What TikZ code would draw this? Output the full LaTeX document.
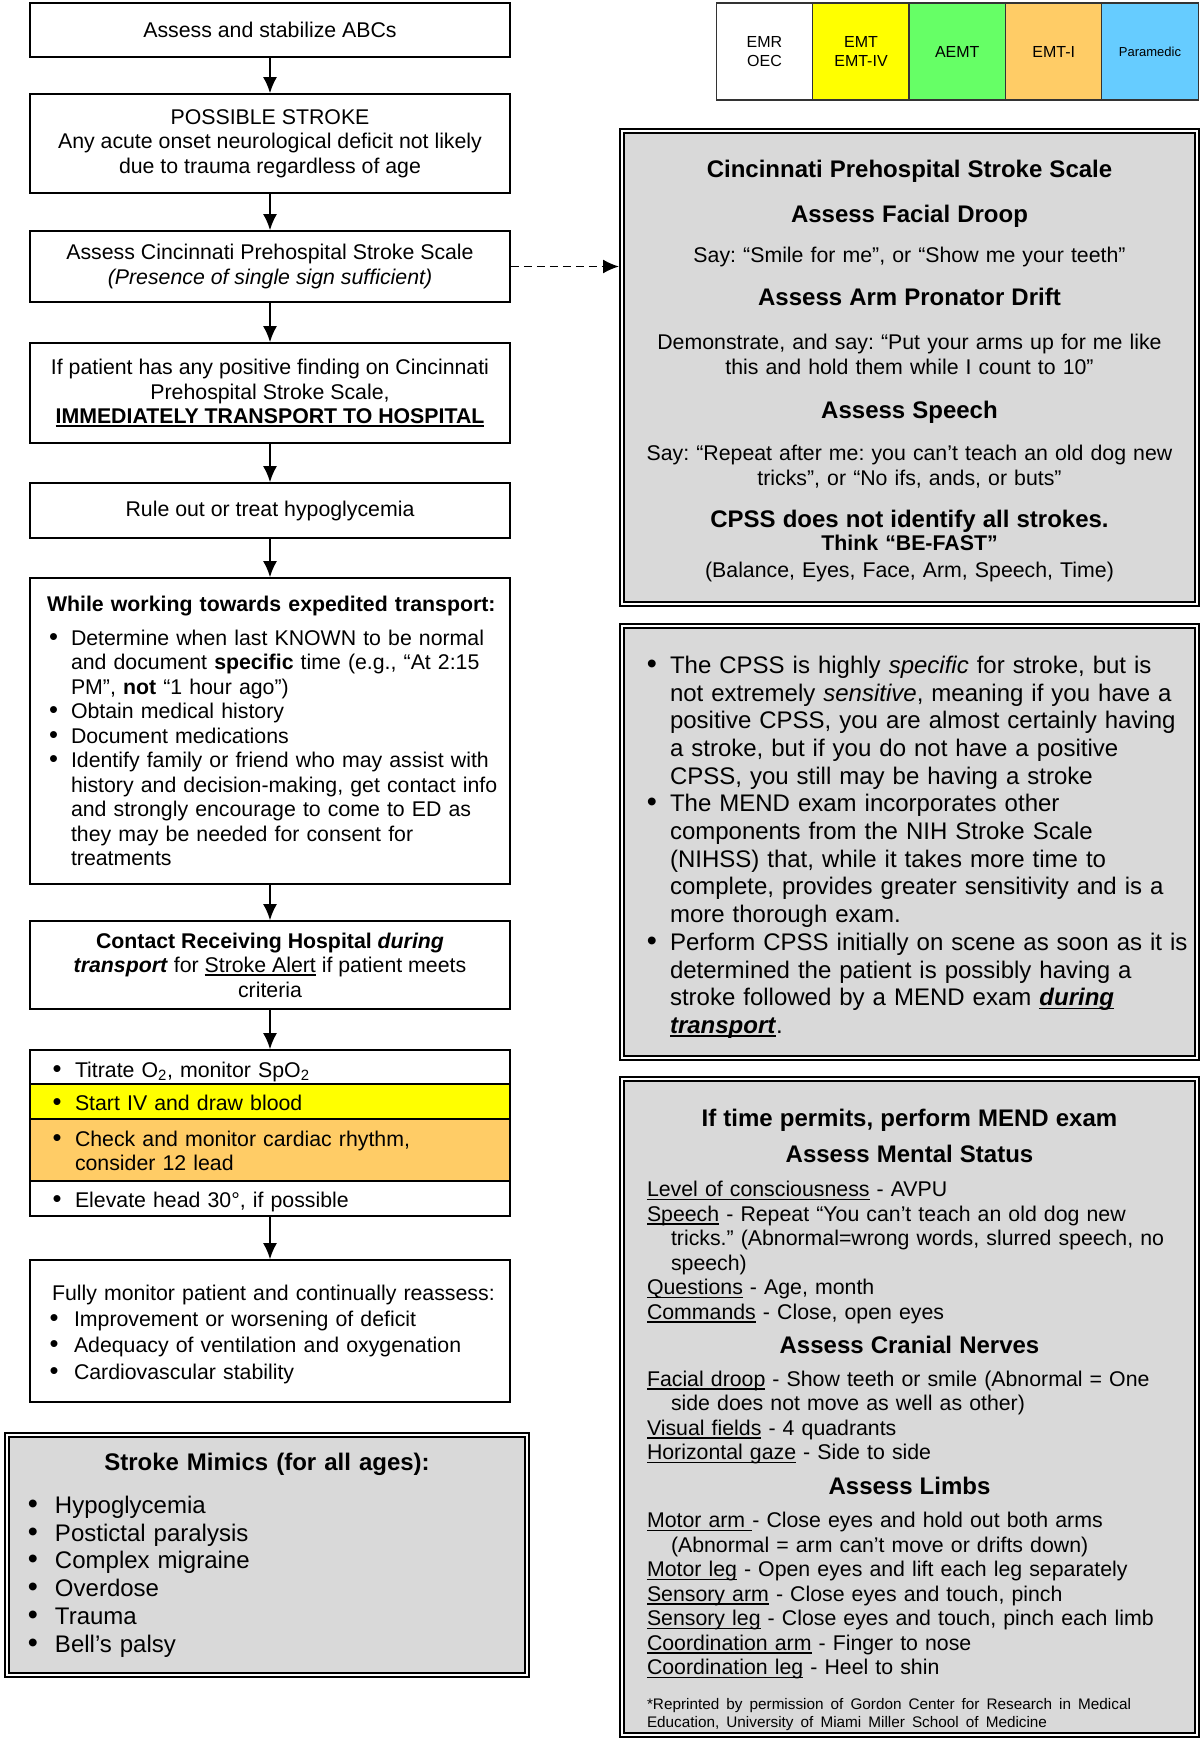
\documentclass[tikz,border=0pt]{standalone}
\usepackage{fontspec}
\setmainfont{Liberation Sans}
\usetikzlibrary{arrows.meta}
\tikzset{>={Latex[length=16pt,width=14pt]}}

\definecolor{lvlyellow}{HTML}{FFFF00}
\definecolor{lvlgreen}{HTML}{66FF66}
\definecolor{lvlorange}{HTML}{FFCC66}
\definecolor{lvlblue}{HTML}{66CCFF}
\definecolor{boxgray}{HTML}{D9D9D9}

\frenchspacing
\newlength\ulw
\newcommand\uln[1]{\leavevmode\settowidth\ulw{#1}\rlap{\rule[-3.2pt]{\ulw}{1.4pt}}#1}
\newcommand\hang{\hangindent=24pt\hangafter=1\relax}
\newcommand\bul[2]{\par\hangindent=#1\hangafter=1\leavevmode\hbox to #1{\hss\scalebox{1.2}{\textbullet}\hspace{#2}}\ignorespaces}

\newcommand\nsz{\fontsize{21.3}{24.5}\selectfont}
\newcommand\lsz{\fontsize{24}{27.7}\selectfont}
\newcommand\hsz{\fontsize{24}{27.6}\selectfont\bfseries}

\tikzset{
  flowbox/.style={draw, line width=1.8pt, fill=white, minimum width=480pt, inner sep=0pt, align=center, font=\nsz},
  rowbox/.style={flowbox, align=left, text width=440pt},
  dblbox/.style={draw, line width=2pt, double=white, double distance=2pt, fill=boxgray, inner sep=0pt, outer sep=3pt},
  lvlbox/.style={draw=black!80, line width=1.2pt, minimum width=96.4pt, minimum height=97pt, inner sep=0pt, align=center, font=\fontsize{16}{18.4}\selectfont},
  flow/.style={->, line width=1.6pt},
}

\begin{document}
\begin{tikzpicture}[x=1pt,y=-1pt]
            \useasboundingbox (0,0) rectangle (1201,1739);
            \node[lvlbox, fill=white] (emr) at (764.5,51.5) {EMR\\OEC};
            \node[lvlbox, fill=lvlyellow] (emt) at (861,51.5) {EMT\\EMT-IV};
            \node[lvlbox, fill=lvlgreen] (aemt) at (957.25,51.5) {AEMT};
            \node[lvlbox, fill=lvlorange] (emti) at (1053.75,51.5) {EMT-I};
            \node[lvlbox, fill=lvlblue, font=\fontsize{13}{15}\selectfont] (medic) at (1150,51.5) {Paramedic};
            \node[flowbox, minimum height=54pt] (abc) at (270,30) {Assess and stabilize ABCs};
            \node[flowbox, minimum height=99pt] (stroke) at (270,143.5) {POSSIBLE STROKE\\Any acute onset neurological deficit not likely\\due to trauma regardless of age};
            \node[flowbox, minimum height=71pt] (assess) at (270,266.5) {Assess Cincinnati Prehospital Stroke Scale\\\textit{(Presence of single sign sufficient)}};
            \node[flowbox, minimum height=100pt] (transport) at (270,393) {If patient has any positive finding on Cincinnati\\Prehospital Stroke Scale,\\\uln{\textbf{IMMEDIATELY TRANSPORT TO HOSPITAL}}};
            \node[flowbox, minimum height=55pt] (gluc) at (270,510.5) {Rule out or treat hypoglycemia};
            \node[flowbox, align=left, text width=466pt, minimum height=306pt] (work) at (270,731) {\hspace*{10pt}\textbf{While working towards expedited transport:}\par
              \vspace{8.8pt}
              \bul{34pt}{13pt}Determine when last KNOWN to be normal\newline and document \textbf{specific} time (e.g., “At 2:15\newline PM”, \textbf{not} “1 hour ago”)
              \bul{34pt}{13pt}Obtain medical history
              \bul{34pt}{13pt}Document medications
              \bul{34pt}{13pt}Identify family or friend who may assist with\newline history and decision-making, get contact info\newline and strongly encourage to come to ED as\newline they may be needed for consent for\newline treatments\par};
            \node[flowbox, minimum height=88pt] (contact) at (270,965) {\textbf{Contact Receiving Hospital \textit{during}}\\\textbf{\textit{transport}} for \uln{Stroke Alert} if patient meets\\criteria};
            \node[rowbox, minimum height=34pt] (oxy) at (270,1067) {\bul{25pt}{13.5pt}Titrate O\textsubscript{2}, monitor SpO\textsubscript{2}\par};
            \node[rowbox, minimum height=35pt, fill=lvlyellow] (iv) at (270,1101.5) {\bul{25pt}{13.5pt}\strut Start IV and draw blood\strut\par};
            \node[rowbox, minimum height=62pt, fill=lvlorange] (rhythm) at (270,1150) {\bul{25pt}{13.5pt}\strut Check and monitor cardiac rhythm,\newline consider 12 lead\strut\par};
            \node[rowbox, minimum height=35pt] (head) at (270,1198.5) {\bul{25pt}{13.5pt}\strut Elevate head 30°, if possible\strut\par};
            \node[flowbox, align=left, text width=456pt, minimum height=142pt, font=\fontsize{21.3}{26.2}\selectfont] (monitor) at (270,1331) {\hspace*{10pt}Fully monitor patient and continually reassess:
              \bul{32pt}{15.5pt}Improvement or worsening of deficit
              \bul{32pt}{15.5pt}Adequacy of ventilation and oxygenation
              \bul{32pt}{15.5pt}Cardiovascular stability\par\kern-6.6pt};
            \node[dblbox, minimum width=520pt, minimum height=240pt, text width=480pt, align=left, font=\lsz] (mimics) at (267,1555) {{\centering\hsz Stroke Mimics (for all ages):\par}
              \vspace{15.5pt}
              \bul{28pt}{17pt}Hypoglycemia
              \bul{28pt}{17pt}Postictal paralysis
              \bul{28pt}{17pt}Complex migraine
              \bul{28pt}{17pt}Overdose
              \bul{28pt}{17pt}Trauma
              \bul{28pt}{17pt}Bell’s palsy\par};
            \node[dblbox, minimum width=575pt, minimum height=473pt, text width=540pt, align=center, font=\nsz] (cpss) at (909.5,367.5) {{\hsz Cincinnati Prehospital Stroke Scale\par}
              \vspace{17.5pt}
              {\hsz Assess Facial Droop\par}
              \vspace{15.5pt}
              Say: “Smile for me”, or “Show me your teeth”\par
              \vspace{15.4pt}
              {\hsz Assess Arm Pronator Drift\par}
              \vspace{19.2pt}
              Demonstrate, and say: “Put your arms up for me like\\this and hold them while I count to 10”\par
              \vspace{16.5pt}
              {\hsz Assess Speech\par}
              \vspace{18.2pt}
              Say: “Repeat after me: you can’t teach an old dog new\\tricks”, or “No ifs, ands, or buts”\par
              \vspace{14.4pt}
              {\hsz CPSS does not identify all strokes.\par}
              \vspace{-1pt}
              {\bfseries Think “BE-FAST”\par}
              \vspace{2.5pt}
              (Balance, Eyes, Face, Arm, Speech, Time)\par\kern-7.6pt};
            \node[dblbox, minimum width=575pt, minimum height=432pt, text width=560pt, align=left, font=\lsz] (notes) at (909.5,842) {\bul{40.5pt}{13pt}The CPSS is highly \textit{specific} for stroke, but is\newline not extremely \textit{sensitive}, meaning if you have a\newline positive CPSS, you are almost certainly having\newline a stroke, but if you do not have a positive\newline CPSS, you still may be having a stroke
              \bul{40.5pt}{13pt}The MEND exam incorporates other\newline components from the NIH Stroke Scale\newline (NIHSS) that, while it takes more time to\newline complete, provides greater sensitivity and is a\newline more thorough exam.
              \bul{40.5pt}{13pt}Perform CPSS initially on scene as soon as it is\newline determined the patient is possibly having a\newline stroke followed by a MEND exam \uln{\textbf{\textit{during}}}\newline \uln{\textbf{\textit{transport}}}.\par};
            \node[dblbox, minimum width=575pt, minimum height=656pt, text width=525pt, align=left, font=\nsz] (mend) at (909.5,1407) {{\centering\hsz If time permits, perform MEND exam\par}
              \vspace{8.5pt}
              {\centering\hsz Assess Mental Status\par}
              \vspace{9.5pt}
              \uln{Level of consciousness} - AVPU\par
              \hang\uln{Speech} - Repeat “You can’t teach an old dog new\newline tricks.” (Abnormal=wrong words, slurred speech, no\newline speech)\par
              \uln{Questions} - Age, month\par
              \uln{Commands} - Close, open eyes\par
              \vspace{6.4pt}
              {\centering\hsz Assess Cranial Nerves\par}
              \vspace{8.5pt}
              \hang\uln{Facial droop} - Show teeth or smile (Abnormal = One\newline side does not move as well as other)\par
              \uln{Visual fields} - 4 quadrants\par
              \uln{Horizontal gaze} - Side to side\par
              \vspace{7.4pt}
              {\centering\hsz Assess Limbs\par}
              \vspace{8.5pt}
              \hang\uln{Motor arm }- Close eyes and hold out both arms\newline (Abnormal = arm can’t move or drifts down)\par
              \uln{Motor leg} - Open eyes and lift each leg separately\par
              \uln{Sensory arm} - Close eyes and touch, pinch\par
              \uln{Sensory leg} - Close eyes and touch, pinch each limb\par
              \uln{Coordination arm} - Finger to nose\par
              \uln{Coordination leg} - Heel to shin\par
              \vspace{17pt}
              {\fontsize{15.3}{18}\selectfont *Reprinted by permission of Gordon Center for Research in Medical\newline Education, University of Miami Miller School of Medicine\par}\kern-26.6pt};
            \draw[flow] (abc) -- (stroke);
            \draw[flow] (stroke) -- (assess);
            \draw[flow] (assess) -- (transport);
            \draw[flow] (transport) -- (gluc);
            \draw[flow] (gluc) -- (work);
            \draw[flow] (work) -- (contact);
            \draw[flow] (contact) -- (oxy);
            \draw[flow] (head) -- (monitor);
            \draw[flow, dash pattern=on 8pt off 5pt] (assess.east) -- (assess.east -| cpss.west);
        \end{tikzpicture}
\end{document}
